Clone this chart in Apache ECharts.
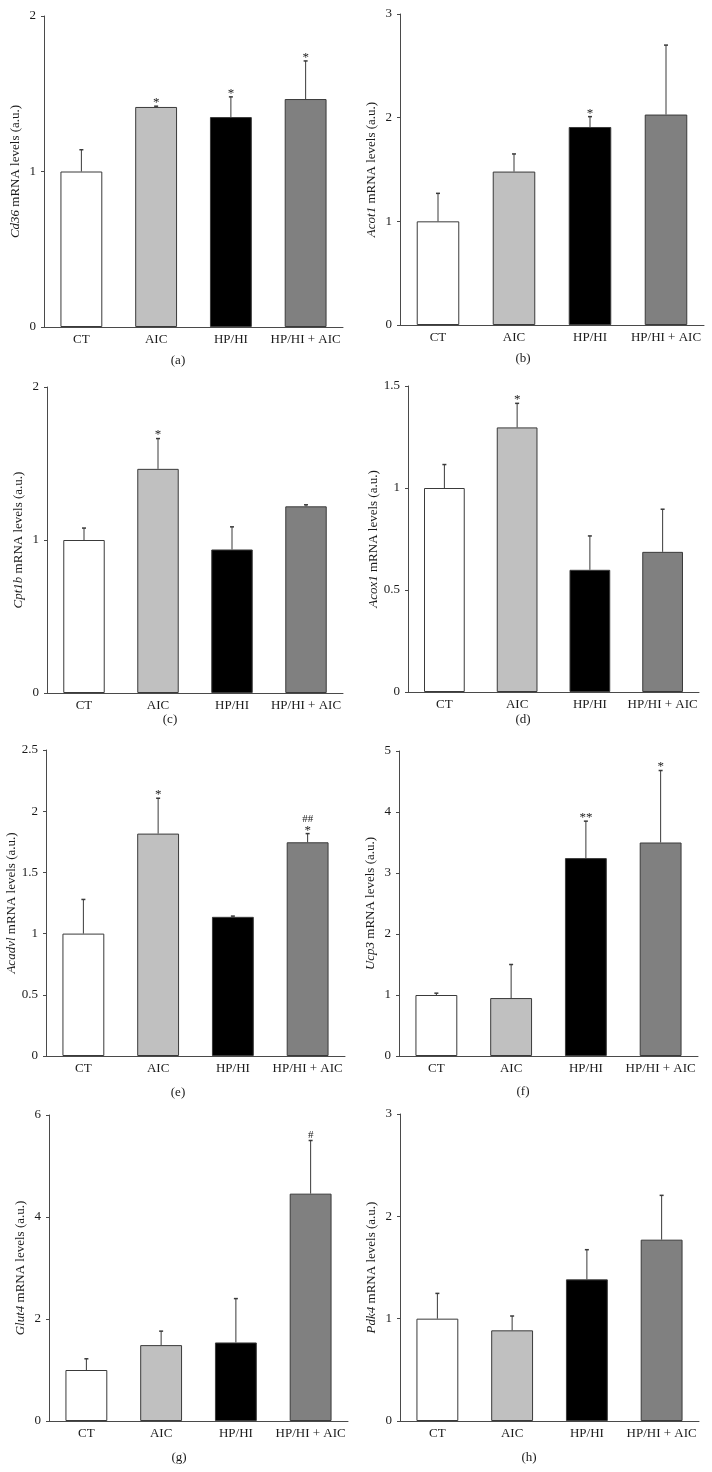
<!DOCTYPE html>
<html>
<head>
<meta charset="utf-8">
<script src="https://cdn.jsdelivr.net/npm/echarts@6/dist/echarts.min.js"></script>
<style>
html,body{margin:0;padding:0;background:#fff;}
#c{width:712px;height:1472px;}
</style>
</head>
<body>
<div id="c"></div>
<script>
// ---------- DATA ----------
const categories = ['CT', 'AIC', 'HP/HI', 'HP/HI + AIC'];
const panelLetters = ['(a)', '(b)', '(c)', '(d)', '(e)', '(f)', '(g)', '(h)'];
const geneNames = ['Cd36', 'Acot1', 'Cpt1b', 'Acox1', 'Acadvl', 'Ucp3', 'Glut4', 'Pdk4'];
const yMax = [2, 3, 2, 1.5, 2.5, 5, 6, 3];
const yInterval = [1, 1, 1, 0.5, 0.5, 1, 2, 1];

const cd36Mean = [1.00, 1.415, 1.35, 1.466];
const cd36Err = [0.14, 0.005, 0.13, 0.245];
const cd36Sig = ['', '*', '*', '*'];

const acot1Mean = [1.00, 1.48, 1.91, 2.03];
const acot1Err = [0.27, 0.17, 0.10, 0.67];
const acot1Sig = ['', '', '*', ''];

const cpt1bMean = [1.00, 1.465, 0.938, 1.22];
const cpt1bErr = [0.078, 0.198, 0.148, 0.01];
const cpt1bSig = ['', '*', '', ''];

const acox1Mean = [1.00, 1.297, 0.599, 0.687];
const acox1Err = [0.115, 0.118, 0.166, 0.209];
const acox1Sig = ['', '*', '', ''];

const acadvlMean = [1.00, 1.817, 1.137, 1.746];
const acadvlErr = [0.279, 0.289, 0.006, 0.071];
const acadvlSig = ['', '*', '', '##\n*'];

const ucp3Mean = [1.00, 0.95, 3.244, 3.50];
const ucp3Err = [0.03, 0.55, 0.606, 1.18];
const ucp3Sig = ['', '', '**', '*'];

const glut4Mean = [1.00, 1.488, 1.54, 4.458];
const glut4Err = [0.22, 0.274, 0.86, 1.042];
const glut4Sig = ['', '', '', '#'];

const pdk4Mean = [1.00, 0.886, 1.384, 1.772];
const pdk4Err = [0.247, 0.14, 0.29, 0.433];
const pdk4Sig = ['', '', '', ''];

const barColors = ['#ffffff', '#c0c0c0', '#000000', '#808080'];

// ---------- LAYOUT ----------
const panels = [
  {mean: cd36Mean, err: cd36Err, sig: cd36Sig},
  {mean: acot1Mean, err: acot1Err, sig: acot1Sig},
  {mean: cpt1bMean, err: cpt1bErr, sig: cpt1bSig},
  {mean: acox1Mean, err: acox1Err, sig: acox1Sig},
  {mean: acadvlMean, err: acadvlErr, sig: acadvlSig},
  {mean: ucp3Mean, err: ucp3Err, sig: ucp3Sig},
  {mean: glut4Mean, err: glut4Err, sig: glut4Sig},
  {mean: pdk4Mean, err: pdk4Err, sig: pdk4Sig}
];
const grids = [
  {left: 44, top: 16, width: 299, height: 311},
  {left: 400, top: 14, width: 304, height: 311},
  {left: 47, top: 387, width: 296, height: 306},
  {left: 408, top: 386, width: 291, height: 306},
  {left: 46, top: 750, width: 299, height: 306},
  {left: 399, top: 751, width: 299, height: 305},
  {left: 49, top: 1115, width: 299, height: 306},
  {left: 400, top: 1114, width: 299, height: 307}
];
const letterPos = [
  [178, 361], [523, 359], [170, 720], [523, 720],
  [178, 1093], [523, 1092], [179, 1458], [529, 1458]
];

const FONT = 'Liberation Serif';
const AXIS_COLOR = '#4a4a4a';

const option = {
  backgroundColor: '#ffffff',
  animation: false,
  textStyle: {fontFamily: FONT},
  grid: grids.map(g => Object.assign({containLabel: false}, g)),
  xAxis: grids.map((g, i) => ({
    type: 'category',
    gridIndex: i,
    data: categories,
    axisLine: {lineStyle: {color: AXIS_COLOR, width: 1}},
    axisTick: {show: false},
    axisLabel: {fontFamily: FONT, fontSize: 13, color: '#1a1a1a', margin: 6, interval: 0}
  })),
  yAxis: grids.map((g, i) => ({
    type: 'value',
    gridIndex: i,
    min: 0,
    max: yMax[i],
    interval: yInterval[i],
    splitLine: {show: false},
    axisLine: {show: true, lineStyle: {color: AXIS_COLOR, width: 1}},
    axisTick: {show: true, length: 3, lineStyle: {color: AXIS_COLOR}},
    axisLabel: {fontFamily: FONT, fontSize: 13, color: '#1a1a1a', margin: 8},
    name: '{i|' + geneNames[i] + '} mRNA levels (a.u.)',
    nameLocation: 'middle',
    nameGap: 22,
    nameTextStyle: {
      fontFamily: FONT, fontSize: 13, color: '#1a1a1a',
      rich: {i: {fontFamily: FONT, fontSize: 13, fontStyle: 'italic', color: '#1a1a1a'}}
    }
  })),
  graphic: letterPos.map((p, i) => ({
    type: 'text', x: p[0], y: p[1],
    style: {text: panelLetters[i], font: '13px "Liberation Serif"', fill: '#1a1a1a', align: 'center', verticalAlign: 'middle'}
  })),
  series: []
};

panels.forEach((p, i) => {
  option.series.push({
    type: 'bar',
    xAxisIndex: i, yAxisIndex: i,
    barWidth: '56%',
    data: p.mean.map((v, k) => ({value: v, itemStyle: {color: barColors[k], borderColor: '#3a3a3a', borderWidth: 1}})),
    z: 2
  });
  option.series.push({
    type: 'custom',
    xAxisIndex: i, yAxisIndex: i,
    z: 3,
    data: p.mean.map((v, k) => [k, v, v + p.err[k]]),
    renderItem: function (params, api) {
      const base = api.coord([api.value(0), api.value(1)]);
      const top = api.coord([api.value(0), api.value(2)]);
      const sig = p.sig[params.dataIndex];
      const children = [
        {type: 'line', shape: {x1: base[0], y1: base[1], x2: top[0], y2: top[1]}, style: {stroke: '#3a3a3a', lineWidth: 1}},
        {type: 'line', shape: {x1: top[0] - 2, y1: top[1], x2: top[0] + 2, y2: top[1]}, style: {stroke: '#3a3a3a', lineWidth: 1.5}}
      ];
      if (sig) {
        const lines = sig.split('\n');
        // bottom line sits just above the cap; earlier lines stacked upward
        let yBottom = top[1] + 3;
        for (let li = lines.length - 1; li >= 0; li--) {
          const t = lines[li];
          const isHash = t.indexOf('#') >= 0;
          children.push({
            type: 'text',
            x: top[0], y: isHash ? yBottom - 3 : yBottom,
            style: {text: t, font: (isHash ? '11px' : '13px') + ' "Liberation Serif"', fill: '#1a1a1a', align: 'center', verticalAlign: 'bottom'}
          });
          yBottom -= 9;
        }
      }
      return {type: 'group', children: children};
    }
  });
});

const chart = echarts.init(document.getElementById('c'), null, {renderer: 'canvas'});
chart.setOption(option);
</script>
</body>
</html>
